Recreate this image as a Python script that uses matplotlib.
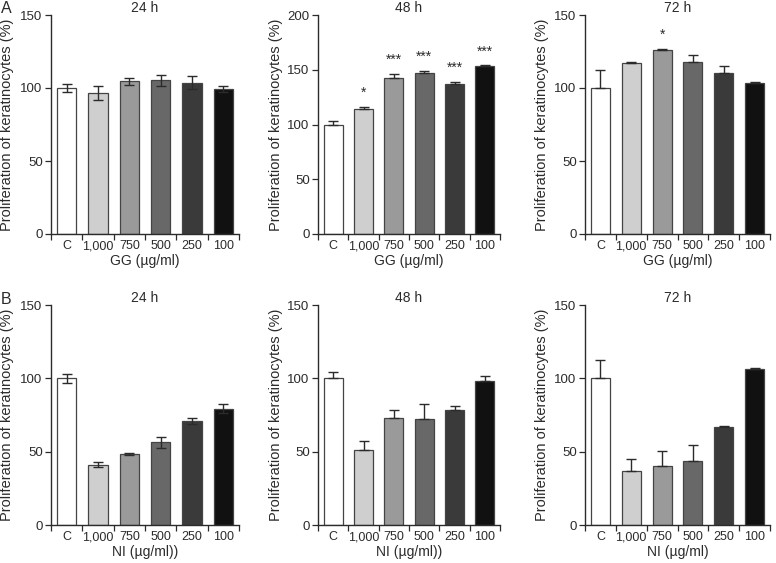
import numpy as np
import matplotlib
matplotlib.use("Agg")
import matplotlib.pyplot as plt

plt.rcParams["font.family"] = ["Liberation Sans", "DejaVu Sans"]

# ----------------------------
# Data
# ----------------------------
categories = ["C", "1,000", "750", "500", "250", "100"]
bar_colors = ["#ffffff", "#cfcfcf", "#9a9a9a", "#686868", "#3a3a3a", "#111111"]

# row A: GG
gg_24 = [100, 96.5, 104.5, 105.3, 103.5, 99.4]
gg_24_err = [2.8, 5.0, 2.3, 3.7, 4.5, 2.0]
gg_48 = [100, 114.5, 142.4, 147.3, 136.9, 153.3]
gg_48_err = [3.5, 1.9, 4.0, 1.8, 2.2, 0.9]
gg_48_sig = ["", "*", "***", "***", "***", "***"]
gg_72 = [100, 117.4, 125.8, 118.0, 110.4, 103.4]
gg_72_err = [12.0, 0.6, 1.1, 4.8, 4.6, 0.6]
gg_72_sig = ["", "", "*", "", "", ""]

# row B: NI
ni_24 = [100, 41.0, 48.2, 56.4, 70.9, 79.3]
ni_24_err = [3.0, 1.7, 0.8, 3.7, 2.3, 3.2]
ni_48 = [100, 50.9, 72.7, 72.3, 78.6, 98.4]
ni_48_err = [4.0, 6.4, 5.9, 10.4, 2.5, 3.0]
ni_72 = [100, 36.6, 40.0, 43.4, 67.0, 106.1]
ni_72_err = [12.3, 8.2, 10.7, 10.9, 0.8, 1.2]

# ----------------------------
# Layout
# ----------------------------
W, H = 776, 563
fig = plt.figure(figsize=(W / 100, H / 100), dpi=100)

def box(left, top, right, bottom):
    return [left / W, 1 - bottom / H, (right - left) / W, (bottom - top) / H]

col_px = [(51, 239), (318, 500), (585, 770)]
row_px = [(15, 234), (305, 525)]

ink = "#2b2b2b"

def panel(pos, vals, errs, title, ymax, xlabel, both_sides, sig=None):
    ax = fig.add_axes(pos)
    x = np.arange(len(vals))
    ax.bar(x, vals, width=0.62, color=bar_colors, edgecolor="#444444", linewidth=0.9, zorder=2)
    if both_sides:
        yerr = errs
    else:
        yerr = [np.zeros(len(errs)), errs]
    ax.errorbar(x, vals, yerr=yerr, fmt="none", ecolor=ink, elinewidth=1.0,
                capsize=3.5, capthick=1.0, zorder=3)
    if sig is not None:
        for xi, v, e, s in zip(x, vals, errs, sig):
            if s:
                ax.text(xi, v + e + ymax * 0.03, s, ha="center", va="bottom",
                        fontsize=10, color=ink)
    ax.set_xlim(-0.5, 5.5)
    ax.set_ylim(0, ymax)
    ax.set_yticks(np.arange(0, ymax + 1, 50))
    ax.set_xticks(x)
    ax.set_xticklabels(categories)
    ax.set_xticks(np.arange(-0.5, 6, 1), minor=True)
    ax.tick_params(axis="x", which="major", length=0, labelsize=9, colors=ink, pad=4.5)
    ax.tick_params(axis="x", which="minor", length=4, width=0.9, color=ink, direction="out")
    ax.tick_params(axis="y", length=4, width=0.9, labelsize=9.5, colors=ink, pad=2)
    for s in ["top", "right"]:
        ax.spines[s].set_visible(False)
    for s in ["left", "bottom"]:
        ax.spines[s].set_color(ink)
        ax.spines[s].set_linewidth(1.0)
    ax.set_title(title, fontsize=10, color=ink, pad=1.5)
    ax.set_xlabel(xlabel, fontsize=10, color=ink, labelpad=1)
    ax.set_ylabel("Proliferation of keratinocytes (%)", fontsize=10.5, color=ink)
    ax.yaxis.set_label_coords(-0.195, 0.5)
    return ax

gg_label = "GG (\u00b5g/ml)"
panel(box(col_px[0][0], row_px[0][0], col_px[0][1], row_px[0][1]), gg_24, gg_24_err, "24 h", 150, gg_label, True)
panel(box(col_px[1][0], row_px[0][0], col_px[1][1], row_px[0][1]), gg_48, gg_48_err, "48 h", 200, gg_label, False, gg_48_sig)
panel(box(col_px[2][0], row_px[0][0], col_px[2][1], row_px[0][1]), gg_72, gg_72_err, "72 h", 150, gg_label, False, gg_72_sig)

panel(box(col_px[0][0], row_px[1][0], col_px[0][1], row_px[1][1]), ni_24, ni_24_err, "24 h", 150, "NI (\u00b5g/ml))", True)
panel(box(col_px[1][0], row_px[1][0], col_px[1][1], row_px[1][1]), ni_48, ni_48_err, "48 h", 150, "NI (\u00b5g/ml))", False)
panel(box(col_px[2][0], row_px[1][0], col_px[2][1], row_px[1][1]), ni_72, ni_72_err, "72 h", 150, "NI (\u00b5g/ml)", False)

fig.text(0.5 / W, 1 - 12.7 / H, "A", fontsize=11.5, color=ink, ha="left", va="baseline")
fig.text(0.5 / W, 1 - 304 / H, "B", fontsize=11.5, color=ink, ha="left", va="baseline")

fig.savefig("out.png", dpi=100)
